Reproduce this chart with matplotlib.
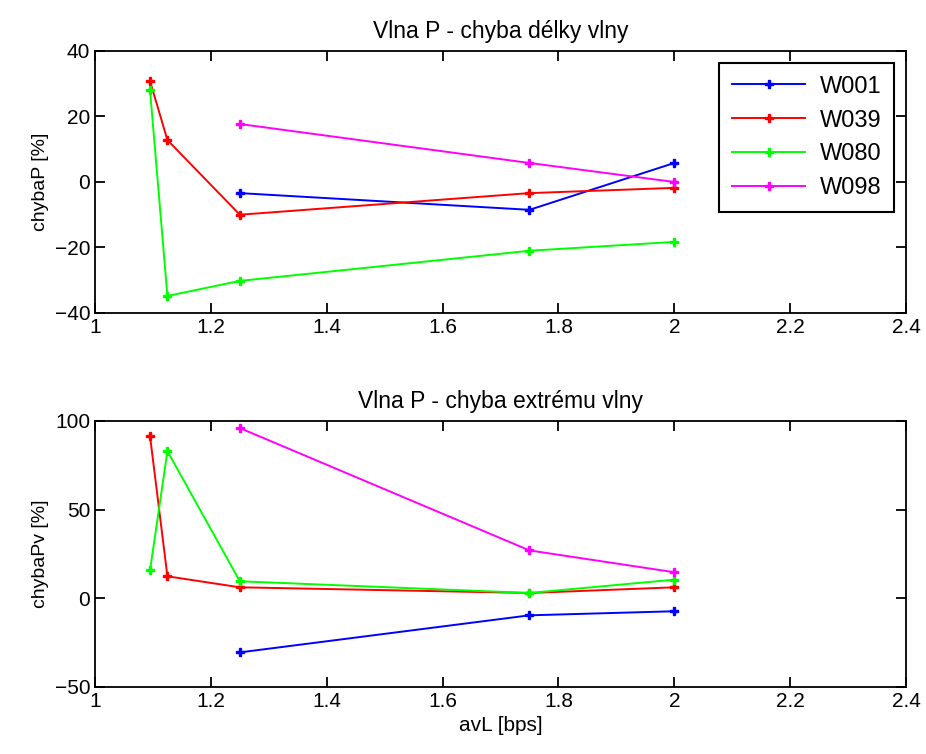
import matplotlib.pyplot as plt

plt.rcParams['font.family'] = ['Liberation Sans', 'DejaVu Sans']
plt.rcParams['axes.linewidth'] = 1.3

avl = [1.095, 1.125, 1.25, 1.75, 2.0]
labels = ["W001", "W039", "W080", "W098"]
colors = ["blue", "red", "lime", "magenta"]

# chyba delky vlny [%]
chybaP = {
    "W001": [None, None, -3.4, -8.5, 5.8],
    "W039": [30.8, 12.8, -10.0, -3.4, -1.8],
    "W080": [28.0, -34.8, -30.2, -21.0, -18.3],
    "W098": [None, None, 17.7, 5.8, 0.0],
}
# chyba extremu vlny [%]
chybaPv = {
    "W001": [None, None, -30.5, -9.6, -7.3],
    "W039": [91.4, 12.4, 6.2, 3.0, 6.2],
    "W080": [15.8, 83.0, 9.6, 3.0, 10.5],
    "W098": [None, None, 96.0, 27.0, 14.7],
}


def draw(ax, data):
    for lab, col in zip(labels, colors):
        xs = [x for x, y in zip(avl, data[lab]) if y is not None]
        ys = [y for y in data[lab] if y is not None]
        ax.plot(xs, ys, color=col, marker="P", markersize=6, linewidth=1.4, label=lab)
    ax.set_xlim(1, 2.4)
    ax.set_xticks([1, 1.2, 1.4, 1.6, 1.8, 2, 2.2, 2.4])
    ax.set_xticklabels(["1", "1.2", "1.4", "1.6", "1.8", "2", "2.2", "2.4"])
    ax.tick_params(direction="in", top=True, right=True, labelsize=15, length=7, width=1.3)


fig = plt.figure(figsize=(9.26, 7.54), dpi=100)
ax1 = fig.add_axes([0.1026, 0.5849, 0.8758, 0.3475])
ax2 = fig.add_axes([0.1026, 0.0889, 0.8758, 0.3528])

draw(ax1, chybaP)
ax1.set_ylim(-40, 40)
ax1.set_yticks([-40, -20, 0, 20, 40])
ax1.set_title("Vlna P - chyba délky vlny", fontsize=16.5, pad=9)
ax1.set_ylabel("chybaP [%]", fontsize=14, labelpad=4)
leg = ax1.legend(loc="upper right", fontsize=17, fancybox=False, edgecolor="black",
                 framealpha=1, handlelength=3.1, borderaxespad=0.5, labelspacing=0.5,
                 borderpad=0.55, handletextpad=0.6)
leg.get_frame().set_linewidth(1.5)

draw(ax2, chybaPv)
ax2.set_ylim(-50, 100)
ax2.set_yticks([-50, 0, 50, 100])
ax2.set_title("Vlna P - chyba extrému vlny", fontsize=16.5, pad=9)
ax2.set_ylabel("chybaPv [%]", fontsize=14, labelpad=4)
ax2.set_xlabel("avL [bps]", fontsize=15, labelpad=4)

plt.savefig("out.png", dpi=100)
